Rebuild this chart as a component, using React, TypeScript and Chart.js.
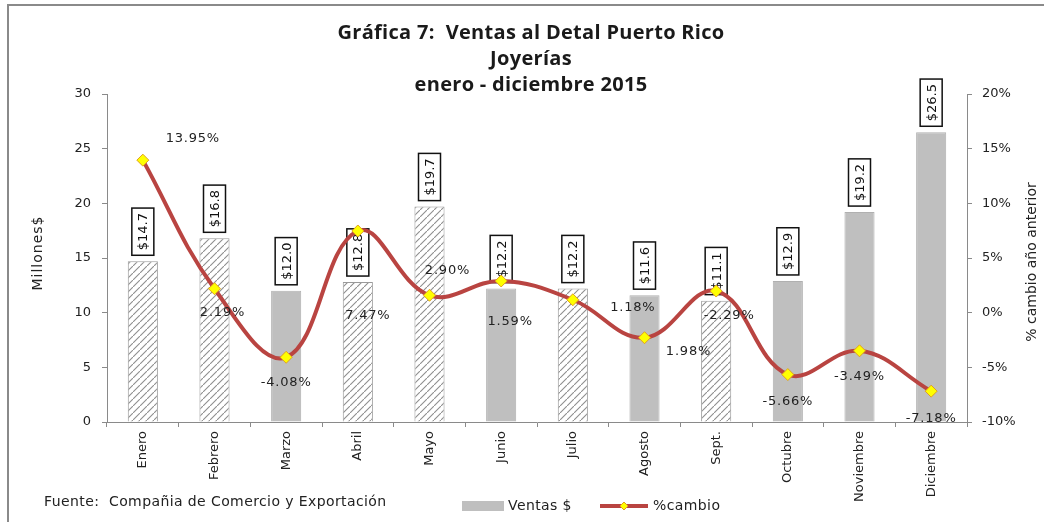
import React, { useEffect, useRef } from "react";
import { Chart, registerables } from "chart.js";

Chart.register(...registerables);

const months = ["Enero", "Febrero", "Marzo", "Abril", "Mayo", "Junio", "Julio", "Agosto", "Sept.", "Octubre", "Noviembre", "Diciembre"];
const ventas = [14.7, 16.8, 12.0, 12.8, 19.7, 12.2, 12.2, 11.6, 11.1, 12.9, 19.2, 26.5];
const ventasLabels = ["$14.7", "$16.8", "$12.0", "$12.8", "$19.7", "$12.2", "$12.2", "$11.6", "$11.1", "$12.9", "$19.2", "$26.5"];
const hatched = [true, true, false, true, true, false, true, false, true, false, false, false];
const cambio = [13.95, 2.19, -4.08, 7.47, 1.59, 2.9, 1.18, -2.29, 1.98, -5.66, -3.49, -7.18];
const cambioLabels = ["13.95%", "2.19%", "-4.08%", "7.47%", "2.90%", "1.59%", "1.18%", "1.98%", "-2.29%", "-5.66%", "-3.49%", "-7.18%"];
const leftTicks = [0, 5, 10, 15, 20, 25, 30];
const rightTicks = [-10, -5, 0, 5, 10, 15, 20];

const titleLines = ["Gráfica 7:  Ventas al Detal Puerto Rico", "Joyerías", "enero - diciembre 2015"];
const sourceText = "Fuente:  Compañia de Comercio y Exportación";
const leftTitle = "Millones$";
const rightTitle = "% cambio año anterior";

// label offsets (style)
const pctOffsets = [[50, -22], [8, 24], [0, 25], [10, 85], [18, -25], [9, 41], [60, 8], [44, 14], [13, 25], [0, 27], [0, 26], [0, 27]];

const NUM_FONT = '"DejaVu Sans", Verdana, sans-serif';
const TXT_FONT = '"Open Sans", sans-serif';

function makeHatch(): CanvasPattern | string {
  const c = document.createElement("canvas");
  const s = 7;
  c.width = s;
  c.height = s;
  const g = c.getContext("2d");
  if (!g) return "#ddd";
  g.fillStyle = "#ffffff";
  g.fillRect(0, 0, s, s);
  g.strokeStyle = "#8f8f8f";
  g.lineWidth = 1.1;
  g.beginPath();
  g.moveTo(-1, s + 1);
  g.lineTo(s + 1, -1);
  g.moveTo(-1 - s, s + 1 - s);
  g.lineTo(s + 1 - s, -1 - s);
  g.moveTo(-1 + s, s + 1 + s);
  g.lineTo(s + 1 + s, -1 + s);
  g.stroke();
  return g.createPattern(c, "repeat") || "#ddd";
}

function setSpacing(ctx: any, v: string) {
  try {
    ctx.letterSpacing = v;
  } catch (e) {}
}

export default function App() {
  const ref = useRef<HTMLCanvasElement | null>(null);
  useEffect(() => {
    if (!ref.current) return;
    const hatch = makeHatch();
    const decor = {
      id: "decor",
      beforeDraw(chart: any) {
        const ctx = chart.ctx;
        ctx.save();
        ctx.fillStyle = "#fff";
        ctx.fillRect(0, 0, chart.width, chart.height);
        // frame
        ctx.strokeStyle = "#8a8a8a";
        ctx.lineWidth = 2;
        ctx.beginPath();
        ctx.moveTo(8, 524);
        ctx.lineTo(8, 5);
        ctx.lineTo(1044, 5);
        ctx.stroke();
        // title
        ctx.fillStyle = "#1a1a1a";
        ctx.font = `bold 20px ${TXT_FONT}`;
        setSpacing(ctx, "0.3px");
        ctx.textAlign = "center";
        ctx.textBaseline = "middle";
        const ys = [33, 59, 85];
        titleLines.forEach((t, i) => ctx.fillText(t, 531, ys[i]));
        // axis titles
        const ca = chart.chartArea;
        const cy = (ca.top + ca.bottom) / 2;
        ctx.font = `14px ${NUM_FONT}`;
        ctx.fillStyle = "#222";
        setSpacing(ctx, "1px");
        ctx.save();
        ctx.translate(38, cy - 5);
        ctx.rotate(-Math.PI / 2);
        ctx.fillText(leftTitle, 0, 0);
        ctx.restore();
        setSpacing(ctx, "0px");
        ctx.save();
        ctx.translate(1032, cy + 4);
        ctx.rotate(-Math.PI / 2);
        ctx.fillText(rightTitle, 0, 0);
        ctx.restore();
        // source
        ctx.textAlign = "left";
        ctx.font = `14px ${NUM_FONT}`;
        setSpacing(ctx, "0.4px");
        ctx.fillText(sourceText, 44, 502);
        // legend
        ctx.fillStyle = "#bfbfbf";
        ctx.fillRect(462, 501, 42, 10);
        ctx.fillStyle = "#222";
        ctx.fillText("Ventas $", 508, 506);
        ctx.strokeStyle = "#b94441";
        ctx.lineWidth = 4;
        ctx.beginPath();
        ctx.moveTo(600, 506);
        ctx.lineTo(648, 506);
        ctx.stroke();
        ctx.fillStyle = "#ffff00";
        ctx.strokeStyle = "#e0a020";
        ctx.lineWidth = 1;
        ctx.beginPath();
        ctx.moveTo(624, 502);
        ctx.lineTo(628, 506);
        ctx.lineTo(624, 510);
        ctx.lineTo(620, 506);
        ctx.closePath();
        ctx.fill();
        ctx.stroke();
        ctx.fillStyle = "#222";
        ctx.fillText("%cambio", 653, 506);
        ctx.restore();
      },
      afterDatasetDraw(chart: any, args: any) {
        if (args.index !== 0) return;
        const ctx = chart.ctx;
        const meta = chart.getDatasetMeta(0);
        ctx.save();
        ctx.font = `13px ${NUM_FONT}`;
        ctx.textAlign = "center";
        ctx.textBaseline = "middle";
        meta.data.forEach((bar: any, i: number) => {
          const txt = ventasLabels[i];
          const tw = ctx.measureText(txt).width;
          const h = tw + 10;
          const w = 22;
          const bottom = bar.y - 6;
          const top = bottom - h;
          ctx.fillStyle = "#fff";
          ctx.fillRect(bar.x - w / 2, top, w, h);
          ctx.strokeStyle = "#111";
          ctx.lineWidth = 1.5;
          ctx.strokeRect(bar.x - w / 2, top, w, h);
          ctx.save();
          ctx.translate(bar.x + 1, (top + bottom) / 2);
          ctx.rotate(-Math.PI / 2);
          ctx.fillStyle = "#111";
          ctx.fillText(txt, 0, 0);
          ctx.restore();
        });
        ctx.restore();
      },
      afterDraw(chart: any) {
        const ctx = chart.ctx;
        const meta = chart.getDatasetMeta(1);
        ctx.save();
        ctx.font = `13px ${NUM_FONT}`;
        setSpacing(ctx, "0.8px");
        ctx.textAlign = "center";
        ctx.textBaseline = "middle";
        ctx.fillStyle = "#222";
        meta.data.forEach((pt: any, i: number) => {
          const [dx, dy] = pctOffsets[i];
          ctx.fillText(cambioLabels[i], pt.x + dx, pt.y + dy);
        });
        ctx.restore();
      },
    };

    const chart = new Chart(ref.current, {
      type: "bar",
      data: {
        labels: months,
        datasets: [
          {
            type: "bar",
            label: "Ventas $",
            data: ventas,
            yAxisID: "y",
            order: 2,
            backgroundColor: hatched.map((h) => (h ? hatch : "#bfbfbf")) as any,
            borderColor: hatched.map((h) => (h ? "#9a9a9a" : "#b0b0b0")),
            borderWidth: 1,
            barPercentage: 0.42,
            categoryPercentage: 1,
          },
          {
            type: "line",
            label: "%cambio",
            data: cambio,
            yAxisID: "y1",
            order: 1,
            borderColor: "#b94441",
            borderWidth: 4,
            tension: 0.4,
            pointStyle: "rectRot",
            pointRadius: 6,
            pointBackgroundColor: "#ffff00",
            pointBorderColor: "#e0a020",
            pointBorderWidth: 1,
            fill: false,
          },
        ] as any,
      },
      options: {
        responsive: false,
        animation: false,
        devicePixelRatio: 1,
        layout: { padding: { top: 94, left: 0, right: 0, bottom: 0 } },
        plugins: { legend: { display: false }, title: { display: false }, tooltip: { enabled: false } },
        scales: {
          x: {
            grid: { display: true, drawOnChartArea: false, drawTicks: true, tickLength: 5, color: "#8a8a8a", offset: true },
            border: { display: true, color: "#8a8a8a", width: 1 },
            ticks: {
              minRotation: 90,
              maxRotation: 90,
              padding: 4,
              color: "#222",
              font: { family: NUM_FONT, size: 13 },
            },
            afterFit(scale: any) {
              scale.height = 100;
            },
          },
          y: {
            position: "left",
            min: 0,
            max: 30,
            afterBuildTicks(scale: any) {
              scale.ticks = leftTicks.map((v) => ({ value: v }));
            },
            grid: { display: true, drawOnChartArea: false, drawTicks: true, tickLength: 5, color: "#8a8a8a" },
            border: { display: true, color: "#8a8a8a", width: 1 },
            ticks: { padding: 11, color: "#222", font: { family: NUM_FONT, size: 13 } },
            afterFit(scale: any) {
              scale.width = 107;
            },
          },
          y1: {
            position: "right",
            min: -10,
            max: 20,
            afterBuildTicks(scale: any) {
              scale.ticks = rightTicks.map((v) => ({ value: v }));
            },
            grid: { display: true, drawOnChartArea: false, drawTicks: true, tickLength: 5, color: "#8a8a8a" },
            border: { display: true, color: "#8a8a8a", width: 1 },
            ticks: {
              padding: 10,
              color: "#222",
              font: { family: NUM_FONT, size: 13 },
              callback: (v: any) => `${v}%`,
            },
            afterFit(scale: any) {
              scale.width = 77;
            },
          },
        },
      },
      plugins: [decor],
    } as any);
    return () => chart.destroy();
  }, []);

  return (
    <div style={{ position: "fixed", left: 0, top: 0, width: 1044, height: 522, background: "#fff" }}>
      <canvas ref={ref} width={1044} height={522} style={{ width: 1044, height: 522, display: "block" }} />
    </div>
  );
}
